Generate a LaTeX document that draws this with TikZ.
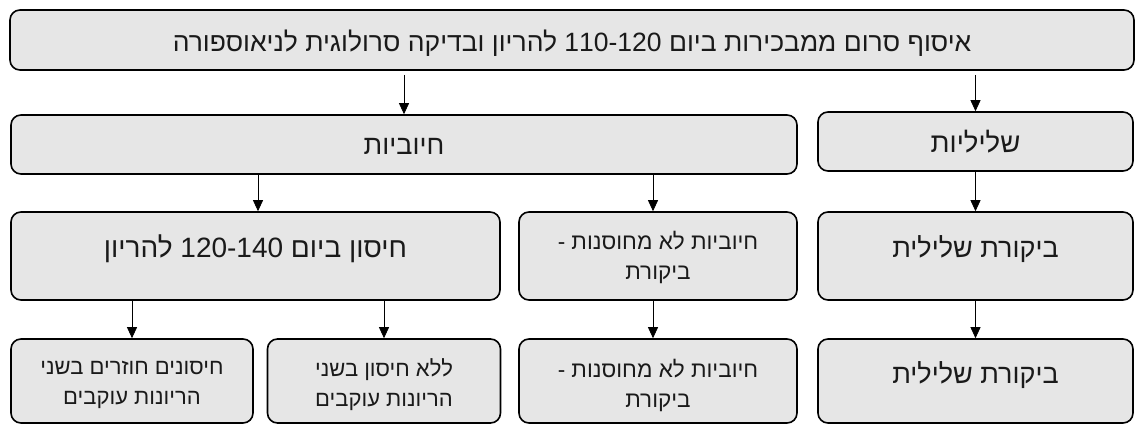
\documentclass[tikz,border=0pt]{standalone}
\usepackage{fontspec}
\setmainfont{Liberation Sans}
\newfontfamily\hebfont[Script=Hebrew]{Liberation Sans}
\TeXXeTstate=1
\usetikzlibrary{arrows.meta}
\definecolor{boxfill}{HTML}{E6E6E6}
\definecolor{txt}{HTML}{1A1A1A}
\tikzset{
  box/.style={draw=black, line width=1.6pt, fill=boxfill, rounded corners=10pt,
    inner sep=0pt},
  lbl/.style={inner sep=0pt, align=center, text=txt, font=\hebfont},
  arr/.style={draw=black, line width=0.8pt, -{Triangle[length=11pt,width=10pt]}},
}
\newcommand{\R}[1]{\beginR #1\endR}
\begin{document}
\begin{tikzpicture}[x=1pt,y=-1pt]
\useasboundingbox (0,0) rectangle (1135,425);
% row 1
\node[box, minimum width=1124pt, minimum height=60pt] (top) at (572,40) {};
\node[lbl, font=\hebfont\fontsize{26.5}{30}\selectfont] (topt) at ([yshift=-3pt]top.center)
  {\R{איסוף סרום ממבכירות ביום \beginL 110-120\endL{} להריון ובדיקה סרולוגית לניאוספורה}};
% row 2
\node[box, minimum width=786pt, minimum height=59pt] (pos) at (404,144.5) {};
\node[lbl, font=\hebfont\fontsize{27}{30}\selectfont] (post) at ([yshift=-2pt]pos.center) {\R{חיוביות}};
\node[box, minimum width=315pt, minimum height=59pt] (neg) at (975.5,141.5) {};
\node[lbl, font=\hebfont\fontsize{27.5}{30}\selectfont] (negt) at (neg.center) {\R{שליליות}};
% row 3
\node[box, minimum width=489pt, minimum height=88pt] (vac) at (255.5,256) {};
\node[lbl, font=\hebfont\fontsize{28}{30}\selectfont] (vact) at ([yshift=7pt]vac.center)
  {\R{חיסון ביום \beginL 120-140\endL{} להריון}};
\node[box, minimum width=278pt, minimum height=88pt] (pu) at (658,256) {};
\node[lbl, font=\hebfont\fontsize{22.5}{30}\selectfont] (put) at ([yshift=-1pt]pu.center)
  {\R{חיוביות לא מחוסנות -}\\\R{ביקורת}};
\node[box, minimum width=315pt, minimum height=88pt] (nc) at (975.5,256) {};
\node[lbl, font=\hebfont\fontsize{27}{30}\selectfont] (nct) at ([yshift=7pt]nc.center) {\R{ביקורת שלילית}};
% row 4
\node[box, minimum width=242pt, minimum height=84pt] (rep) at (132,381) {};
\node[lbl, font=\hebfont\fontsize{22}{30}\selectfont] (rept) at ([yshift=-4pt]rep.center)
  {\R{חיסונים חוזרים בשני}\\\R{הריונות עוקבים}};
\node[box, minimum width=233pt, minimum height=84pt] (nov) at (384,381) {};
\node[lbl, font=\hebfont\fontsize{22}{30}\selectfont] (novt) at ([yshift=-4pt]nov.center)
  {\R{ללא חיסון בשני}\\\R{הריונות עוקבים}};
\node[box, minimum width=278pt, minimum height=84pt] (pu2) at (658,381) {};
\node[lbl, font=\hebfont\fontsize{22.5}{30}\selectfont] (pu2t) at ([yshift=-4pt]pu2.center)
  {\R{חיוביות לא מחוסנות -}\\\R{ביקורת}};
\node[box, minimum width=315pt, minimum height=84pt] (nc2) at (975.5,381) {};
\node[lbl, font=\hebfont\fontsize{27}{30}\selectfont] (nc2t) at ([yshift=6pt]nc2.center) {\R{ביקורת שלילית}};
% connectors
\draw[arr, shorten <=4pt] (top.south -| pos.north) -- (pos.north);
\draw[arr, shorten <=4pt] (top.south -| neg.north) -- (neg.north);
\coordinate (c1) at (258,0);
\coordinate (c2) at (653,0);
\draw[arr] (pos.south -| c1) -- (vac.north -| c1);
\draw[arr] (pos.south -| c2) -- (pu.north -| c2);
\draw[arr] (neg.south) -- (nc.north);
\draw[arr] (vac.south -| rep.north) -- (rep.north);
\draw[arr] (vac.south -| nov.north) -- (nov.north);
\draw[arr] (pu.south -| c2) -- (pu2.north -| c2);
\draw[arr] (nc.south) -- (nc2.north);
\end{tikzpicture}
\end{document}
